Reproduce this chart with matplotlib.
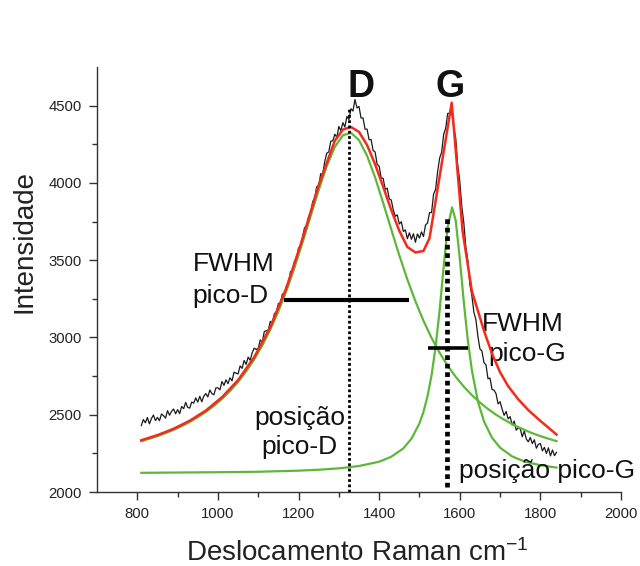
import numpy as np
import matplotlib
matplotlib.use("Agg")
import matplotlib.pyplot as plt

plt.rcParams['font.family'] = ['Liberation Sans', 'DejaVu Sans']
plt.rcParams['mathtext.fontset'] = 'custom'
plt.rcParams['mathtext.rm'] = 'Liberation Sans'
plt.rcParams['mathtext.it'] = 'Liberation Sans:italic'
plt.rcParams['mathtext.bf'] = 'Liberation Sans:bold'

# ---------------- data ----------------
# measured spectrum (black), 810..1840 cm-1 every 5 cm-1
spec_start, spec_step = 810, 5
spectrum = [
    2430, 2469, 2448, 2482, 2441, 2475, 2498, 2462, 2483, 2461, 2505, 2494,
    2478, 2526, 2497, 2522, 2537, 2506, 2533, 2507, 2553, 2539, 2580, 2547,
    2543, 2582, 2575, 2609, 2582, 2619, 2584, 2620, 2637, 2615, 2660, 2637,
    2629, 2674, 2674, 2661, 2715, 2690, 2726, 2701, 2739, 2719, 2775, 2769,
    2764, 2816, 2800, 2851, 2826, 2873, 2852, 2900, 2931, 2922, 2930, 2984,
    2969, 3038, 3043, 3048, 3104, 3092, 3154, 3165, 3220, 3218, 3282, 3277,
    3335, 3344, 3427, 3428, 3491, 3502, 3580, 3579, 3652, 3712, 3711, 3783,
    3796, 3878, 3901, 3975, 3981, 4059, 4058, 4138, 4192, 4201, 4270, 4272,
    4315, 4295, 4365, 4338, 4390, 4362, 4430, 4410, 4480, 4465, 4540, 4485,
    4495, 4420, 4420, 4348, 4348, 4280, 4280, 4210, 4200, 4120, 4109, 4033,
    4029, 3958, 3966, 3897, 3889, 3826, 3784, 3793, 3734, 3749, 3686, 3696,
    3639, 3677, 3635, 3671, 3616, 3670, 3643, 3683, 3653, 3728, 3740, 3808,
    3808, 3927, 3958, 4072, 4160, 4199, 4314, 4353, 4449, 4452, 4455, 4360,
    4290, 4113, 4012, 3848, 3743, 3587, 3498, 3343, 3271, 3163, 3116, 3007,
    2926, 2912, 2837, 2823, 2733, 2737, 2664, 2659, 2636, 2570, 2584, 2537,
    2496, 2521, 2473, 2488, 2433, 2459, 2400, 2415, 2409, 2357, 2395, 2343,
    2325, 2353, 2313, 2338, 2283, 2308, 2314, 2266, 2289, 2249, 2286, 2234,
    2272, 2235, 2257,
]
spec_x = spec_start + spec_step * np.arange(len(spectrum))

# cumulative fit (red)
fit_x = [810, 850, 890, 930, 970, 1010, 1050, 1090, 1130, 1170, 1210, 1250,
         1290, 1310, 1330, 1350, 1370, 1390, 1410, 1430, 1450, 1470, 1490,
         1510, 1525, 1580, 1607, 1630, 1660, 1680, 1700, 1720, 1745, 1770,
         1800, 1840]
fit_y = [2335, 2368, 2409, 2461, 2527, 2613, 2724, 2872, 3068, 3322, 3640,
         3985, 4273, 4345, 4362, 4330, 4245, 4120, 3975, 3825, 3690, 3585,
         3550, 3560, 3643, 4519, 3688, 3300, 3044, 2895, 2775, 2685, 2600,
         2530, 2460, 2372]

# D band component (green)
d_x = [810, 830, 850, 870, 890, 910, 930, 950, 970, 990, 1010, 1030, 1050,
       1070, 1090, 1110, 1130, 1150, 1170, 1190, 1210, 1230, 1250, 1270,
       1290, 1310, 1330, 1350, 1370, 1390, 1410, 1430, 1450, 1470, 1490,
       1510, 1530, 1550, 1570, 1590, 1610, 1630, 1650, 1670, 1690, 1710,
       1730, 1750, 1770, 1790, 1810, 1830, 1840]
d_y = [2329, 2345, 2362, 2381, 2402, 2426, 2453, 2484, 2518, 2557, 2602,
       2653, 2712, 2780, 2858, 2948, 3051, 3169, 3302, 3452, 3615, 3785,
       3954, 4109, 4233, 4308, 4324, 4277, 4176, 4035, 3870, 3699, 3531,
       3375, 3234, 3108, 2997, 2901, 2817, 2745, 2682, 2627, 2579, 2537,
       2500, 2468, 2439, 2414, 2391, 2371, 2353, 2337, 2329]

# G band component (green)
g_x = [810, 900, 1000, 1100, 1200, 1250, 1300, 1350, 1400, 1430, 1460, 1480,
       1500, 1510, 1520, 1530, 1540, 1550, 1560, 1570, 1581, 1590, 1600,
       1610, 1620, 1630, 1645, 1660, 1680, 1700, 1730, 1760, 1800, 1840]
g_y = [2124, 2126, 2128, 2131, 2138, 2144, 2153, 2168, 2196, 2228, 2282,
       2344, 2444, 2519, 2620, 2755, 2938, 3175, 3455, 3715, 3842, 3755,
       3512, 3229, 2981, 2788, 2586, 2457, 2351, 2287, 2230, 2198, 2173,
       2158]

# annotations
d_position = 1324
d_line_top = 4480
g_position = 1569
g_line_top = 3795
fwhm_d = (1165, 1473, 3244)
fwhm_g = (1520, 1620, 2934)

x_ticks = [800, 1000, 1200, 1400, 1600, 1800, 2000]
y_ticks = [2000, 2500, 3000, 3500, 4000, 4500]

# ---------------- figure ----------------
W, H = 640, 566
fig = plt.figure(figsize=(W / 100, H / 100), dpi=100)
L, R, T, B = 97, 621, 67, 492
ax = fig.add_axes([L / W, 1 - B / H, (R - L) / W, (B - T) / H])

ax.plot(spec_x, spectrum, color='#1a1a1a', lw=0.9, zorder=2)
ax.plot(d_x, d_y, color='#5db83a', lw=1.6, zorder=3)
ax.plot(g_x, g_y, color='#5db83a', lw=1.6, zorder=3)
ax.plot(fit_x, fit_y, color='#f42a1c', lw=1.8, zorder=4)

ax.plot([d_position, d_position], [2000, d_line_top], color='black',
        lw=2.0, linestyle=(0, (1, 0.9)), zorder=5)
ax.plot([g_position, g_position], [2030, g_line_top], color='black',
        lw=3.4, linestyle=(0, (1, 0.8)), zorder=5)
ax.plot([fwhm_d[0], fwhm_d[1]], [fwhm_d[2], fwhm_d[2]], color='black',
        lw=3.0, solid_capstyle='butt', zorder=6)
ax.plot([fwhm_g[0], fwhm_g[1]], [fwhm_g[2], fwhm_g[2]], color='black',
        lw=2.6, solid_capstyle='butt', zorder=6)

ax.set_xlim(700, 2000)
ax.set_ylim(2000, 4750)
ax.set_xticks(x_ticks)
ax.set_xticks(np.arange(900, 2000, 200), minor=True)
ax.set_yticks(y_ticks)
ax.set_yticks(np.arange(2250, 4750, 500), minor=True)
ax.tick_params(which='major', direction='out', length=6, width=1.0,
               color='#333333', labelsize=10.7, labelcolor='#222222', pad=5)
ax.tick_params(which='minor', direction='out', length=3.5, width=1.0,
               color='#333333')
for s in ['top', 'right']:
    ax.spines[s].set_visible(False)
for s in ['left', 'bottom']:
    ax.spines[s].set_linewidth(1.0)
    ax.spines[s].set_color('#333333')

txt = dict(color='#111111', fontsize=19)
ax.text(1355, 4558, 'D', ha='center', va='baseline', fontsize=27,
        fontweight='bold', color='#111111')
ax.text(1575, 4558, 'G', ha='center', va='baseline', fontsize=27,
        fontweight='bold', color='#111111')
ax.text(937, 3430, 'FWHM', ha='left', va='baseline', **txt)
ax.text(937, 3224, 'pico-D', ha='left', va='baseline', **txt)
ax.text(1655, 3044, 'FWHM', ha='left', va='baseline', **txt)
ax.text(1672, 2850, 'pico-G', ha='left', va='baseline', **txt)
ax.text(1202, 2432, 'posição', ha='center', va='baseline', **txt)
ax.text(1202, 2245, 'pico-D', ha='center', va='baseline', **txt)
ax.text(1597, 2093, 'posição pico-G', ha='left', va='baseline', **txt)

fig.text(357 / W, 1 - 561 / H, r'Deslocamento Raman cm$^{-1}$',
         ha='center', va='baseline', fontsize=20, color='#222222')
fig.text(24 / W, 1 - 242 / H, 'Intensidade', rotation=90,
         ha='center', va='center', fontsize=20, color='#222222')

fig.savefig('out.png', dpi=100)
